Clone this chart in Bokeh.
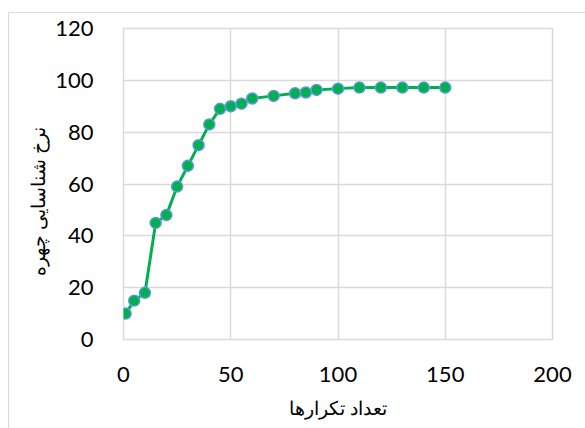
from bokeh.plotting import figure
from bokeh.models import Title, Range1d, FixedTicker
from bokeh.embed import file_html
from bokeh.resources import INLINE

# Number of iterations and the face recognition rate reached
iterations = [1, 5, 10, 15, 20, 25, 30, 35, 40, 45, 50, 55, 60, 70, 80, 85, 90,
              100, 110, 120, 130, 140, 150]
recognition_rate = [10, 15, 18, 45, 48, 59, 67, 75, 83, 89, 90, 91, 93, 94, 95,
                    95.3, 96.3, 96.8, 97.2, 97.2, 97.2, 97.2, 97.2]

x_ticks = [0, 50, 100, 150, 200]
y_ticks = [0, 20, 40, 60, 80, 100, 120]
x_title = "تعداد تکرارها"
y_title = "نرخ شناسایی چهره"

GREEN = "#00B050"
EDGE = "#5B9BD5"
GRID = "#D9D9D9"
TICK_FONT = "Lato"
TITLE_FONT = "Noto Sans"

# the chart area starts 8px in and 12px down, framed by a thin grey border
p = figure(width=577, height=416, output_backend="svg", toolbar_location=None,
           x_range=Range1d(0, 200), y_range=Range1d(0, 120),
           min_border_left=114, min_border_right=34,
           min_border_top=15, min_border_bottom=90,
           margin=(12, 0, 0, 8),
           styles={"border-left": "1.5px solid #D9D9D9",
                   "border-top": "1.5px solid #D9D9D9"})
p.background_fill_color = "white"
p.border_fill_color = "white"
p.outline_line_color = GRID
p.outline_line_width = 1.5

for ax in (p.xaxis[0], p.yaxis[0]):
    ax.axis_line_color = None
    ax.major_tick_line_color = None
    ax.minor_tick_line_color = None
    ax.major_label_text_font = TICK_FONT
    ax.major_label_text_font_size = "22px"
    ax.major_label_text_color = "#000000"

p.xaxis.ticker = FixedTicker(ticks=x_ticks)
p.yaxis.ticker = FixedTicker(ticks=y_ticks)
p.xaxis.major_label_standoff = 21
p.yaxis.major_label_standoff = 24

p.xaxis.axis_label = x_title
p.xaxis.axis_label_text_font = TITLE_FONT
p.xaxis.axis_label_text_font_size = "19px"
p.xaxis.axis_label_text_font_style = "normal"
p.xaxis.axis_label_text_color = "#000000"
p.xaxis.axis_label_standoff = 10

p.xgrid.ticker = FixedTicker(ticks=x_ticks)
p.ygrid.ticker = FixedTicker(ticks=y_ticks)
for g in (p.xgrid[0], p.ygrid[0]):
    g.grid_line_color = GRID
    g.grid_line_width = 1.5

# vertical title of the value axis, set a little below the frame's middle
p.add_layout(Title(text=y_title, align="left", offset=64, standoff=4,
                   text_font=TITLE_FONT, text_font_size="19px",
                   text_font_style="normal", text_color="#000000"), "left")

p.line(iterations, recognition_rate, line_color=GREEN, line_width=3)
p.scatter(iterations, recognition_rate, size=11, fill_color=GREEN,
          line_color=EDGE, line_width=1.5)

open("out.html", "w").write(file_html(p, INLINE))
